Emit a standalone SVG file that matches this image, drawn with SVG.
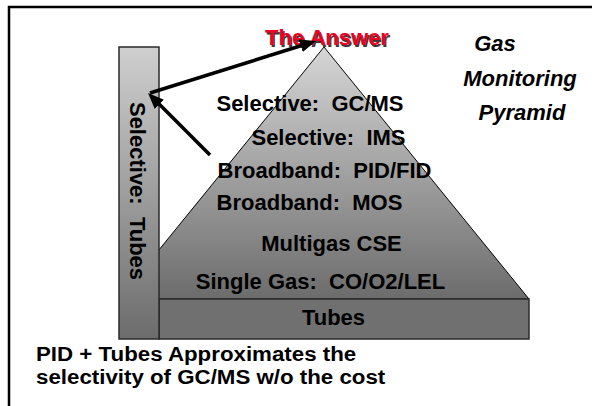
<svg xmlns="http://www.w3.org/2000/svg" width="592" height="406" viewBox="0 0 592 406">
<defs>
<linearGradient id="gPyr" x1="0" y1="47" x2="0" y2="299" gradientUnits="userSpaceOnUse">
<stop offset="0" stop-color="#d6d6d6"/>
<stop offset="1" stop-color="#6c6c6c"/>
</linearGradient>
<linearGradient id="gBar" x1="0" y1="47" x2="0" y2="339" gradientUnits="userSpaceOnUse">
<stop offset="0" stop-color="#cfcfcf"/>
<stop offset="1" stop-color="#6c6c6c"/>
</linearGradient>
<marker id="arrow" markerUnits="userSpaceOnUse" viewBox="0 0 16 13" markerWidth="16" markerHeight="13" refX="6" refY="6.5" orient="auto">
<path d="M0,0 L16,6.5 L0,13 Z" fill="#000"/>
</marker>
<style>
.lbl{font-family:"Liberation Sans",Arial,sans-serif;font-weight:bold;font-size:22px;fill:#000;text-anchor:middle}
.title{font-family:"Liberation Sans",Arial,sans-serif;font-weight:bold;font-style:italic;font-size:22px;fill:#000;text-anchor:middle}
.note{font-family:"Liberation Sans",Arial,sans-serif;font-weight:bold;font-size:20px;fill:#000}
.arr{stroke:#000;stroke-width:3.5;fill:none;marker-end:url(#arrow)}
</style>
</defs>
<path d="M9,406 V7 H592" fill="none" stroke="#000" stroke-width="2.5"/>
<g id="pyramid">
<polygon points="324,47 529,299 119,299" fill="url(#gPyr)" stroke="#000" stroke-width="1"/>
</g>
<g id="tubes-base">
<rect x="159" y="299" width="370" height="40" fill="#707070" stroke="#2a2a2a" stroke-width="1.5"/>
<text class="lbl" x="333.5" y="325">Tubes</text>
</g>
<g id="selective-tubes">
<rect x="119" y="47" width="40" height="292" fill="url(#gBar)" stroke="#2a2a2a" stroke-width="1.5"/>
<text class="lbl" transform="translate(130,191) rotate(90)" xml:space="preserve">Selective:  Tubes</text>
</g>
<g id="levels">
<text class="lbl" x="310" y="111" xml:space="preserve">Selective:  GC/MS</text>
<text class="lbl" x="328.5" y="145" xml:space="preserve">Selective:  IMS</text>
<text class="lbl" x="324.5" y="178" xml:space="preserve">Broadband:  PID/FID</text>
<text class="lbl" x="309.5" y="210" xml:space="preserve">Broadband:  MOS</text>
<text class="lbl" x="331.5" y="251">Multigas CSE</text>
<text class="lbl" x="320.5" y="289" xml:space="preserve">Single Gas:  CO/O2/LEL</text>
</g>
<g id="answer">
<text class="lbl" x="328.5" y="46.5" style="fill:#3a3a3a">The Answer</text>
<text class="lbl" x="327" y="45" style="fill:#ee0022">The Answer</text>
</g>
<g id="title">
<text class="title" x="495" y="51">Gas</text>
<text class="title" x="520" y="86">Monitoring</text>
<text class="title" x="522" y="120">Pyramid</text>
</g>
<g id="note">
<text class="note" transform="translate(36,361) scale(1.115,1)">PID + Tubes Approximates the</text>
<text class="note" transform="translate(36,384) scale(1.115,1)">selectivity of GC/MS w/o the cost</text>
</g>
<g id="connectors">
<line class="arr" x1="150" y1="93" x2="306.5" y2="44"/>
<line class="arr" x1="210" y1="155" x2="155.1" y2="100.1"/>
</g>
</svg>
